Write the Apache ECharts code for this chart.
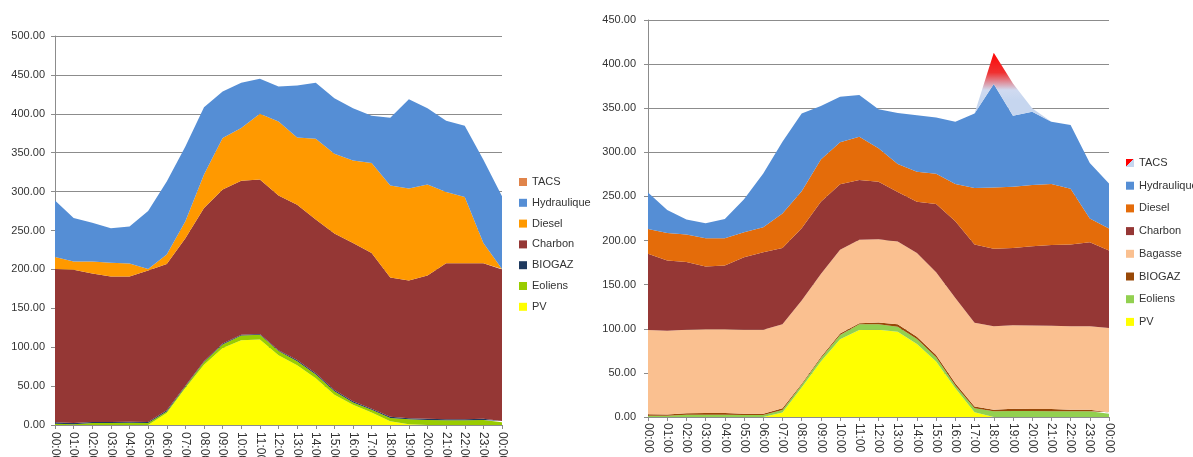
<!DOCTYPE html>
<html><head><meta charset="utf-8">
<script src="https://cdn.jsdelivr.net/npm/echarts@6/dist/echarts.min.js"></script>
<style>
html,body{margin:0;padding:0;background:#fff;width:1193px;height:457px;overflow:hidden}
#c1{position:absolute;left:0;top:0;width:595px;height:457px}
#c2{position:absolute;left:595px;top:0;width:598px;height:457px}
</style>
</head><body><div id="c1"></div><div id="c2"></div>
<script>
// ---------- DATA ----------
const hours = ["00:00","01:00","02:00","03:00","04:00","05:00","06:00","07:00","08:00","09:00","10:00","11:00","12:00","13:00","14:00","15:00","16:00","17:00","18:00","19:00","20:00","21:00","22:00","23:00","00:00"];

// Left chart (MW)
const L_PV       = [0,0,0,0,0,0,15.4,47.6,77.6,99,109,110,89.6,76.7,60,39,26,16,4.7,1,0,0,0,0,0];
const L_Eoliens  = [1.5,1,2.5,2.5,2.8,2.5,2.1,1.9,3.4,4.5,6,6,5.4,5.3,5,4.5,3,3.5,4.3,6.5,6.5,6.2,6.2,6.5,3.5];
const L_BIOGAZ   = [2,1.5,1.5,1.5,1.5,1.5,1.5,1.1,1,1.1,1,1,1,1.5,1.5,1.5,1.5,1.5,1.5,1.3,1.5,1.3,1.3,1.5,1.5];
const L_Charbon  = [197.1,197.1,190.6,187,186.7,194.5,188,189.4,197,198,198,198.4,199,199.5,197.5,201,203.5,200,179,176.8,184,200.5,200.5,200,195];
const L_Diesel   = [15.4,10.4,15.4,17.6,16.7,2.1,12,22,43,66.4,67.6,84.6,95,86.5,104,102.7,106,115.8,118.5,118.4,117,91.6,85,26,0.5];
const L_Hydrau   = [72.5,56,50,44.4,47.3,74.4,94,96,86.5,59.6,58.4,45,45,67,72,71.3,67,60.6,87,114.8,98,91.4,91.6,107,93.5];
const L_TACS     = [0,0,0,0,0,0,0,0,0,0,0,0,0,0,0,0,0,0,0,0,0,0,0,0,0];

// Right chart (MW)
const R_PV       = [0,0,0,0,0,0,0,5,33.5,62.8,88,98.5,99,96.6,82.7,62.8,32.7,5.3,0,0,0,0,0,0,0];
const R_Eoliens  = [1.5,1.5,2.5,2.6,2.6,2.2,2.2,3,3,3.7,5,6.5,6,5.7,5.6,4.9,3,4.5,6.4,6.8,6.8,6.4,6.4,6.4,3.8];
const R_BIOGAZ   = [1.5,1.3,1.8,1.9,1.9,1.6,1.6,2,1.1,1.5,1.7,1.4,2,2.7,2.7,2.6,2.6,2.2,1.9,2.6,2.2,2.6,1.9,1.9,1.5];
const R_Bagasse  = [95.5,94.9,94.7,95.1,95.1,95.1,95.1,95,94.4,94,94.8,94.4,94.5,94,95,93.7,96.7,94.8,94.7,94.6,94.8,94.4,94.7,94.7,95.7];
const R_Charbon  = [86.5,79.7,76.6,71.1,72.2,82.1,87.9,86.7,82,82,74.2,67.8,65.2,56,58,77.4,87,88.7,87.6,87.7,89.8,91.6,92.5,95,87.7];
const R_Diesel   = [28,31.2,31.2,31.9,30.8,28.4,28.2,39.1,42,48,47.6,49.1,37.8,31.7,34,34.2,42,64,69.4,69.3,69.4,69,63.1,27,25.1];
const R_Hydrau   = [41.6,26,17.2,16.9,21.8,37.3,61,81.2,88,60.5,51.7,47.3,44.2,57.8,64,64,70.7,84.5,117.4,80.5,83,70.7,72.4,63,51];
const R_TACS     = [0,0,0,0,0,0,0,0,0,0,0,0,0,0,0,0,0,0,35.6,36.5,4,0,0,0,0];

// ---------- STYLE ----------
const FONT = "'Liberation Sans', Arial, sans-serif";
const TXT = '#333333';
const GRID = '#8c8c8c';

function areaSeries(name, data, color, areaColor) {
  return {
    name, type: 'line', stack: 'total', data,
    symbol: 'none', showSymbol: false, smooth: false,
    lineStyle: { width: 0, opacity: 0 },
    itemStyle: { color },
    areaStyle: { color: areaColor || color, opacity: 1 },
    emphasis: { disabled: true }, animation: false
  };
}

function baseOption(grid, yMax, yMargin, xMargin, legendPos, legendGap, seriesList, legendNames) {
  return {
    animation: false,
    grid: Object.assign({ containLabel: false, outerBoundsMode: 'none' }, grid),
    xAxis: {
      type: 'category', data: hours, boundaryGap: false,
      axisLine: { show: true, lineStyle: { color: GRID, width: 1 } },
      axisTick: { show: true, alignWithLabel: true, interval: 0, length: 4, lineStyle: { color: GRID } },
      axisLabel: { interval: 0, rotate: -90, margin: xMargin, color: TXT, fontFamily: FONT, fontSize: 12 },
      splitLine: { show: false }
    },
    yAxis: {
      type: 'value', min: 0, max: yMax, interval: 50,
      axisLine: { show: true, lineStyle: { color: GRID, width: 1 } },
      axisTick: { show: true, length: 4, lineStyle: { color: GRID } },
      axisLabel: { color: TXT, fontFamily: FONT, fontSize: 11, margin: yMargin, formatter: v => v.toFixed(2) },
      splitLine: { show: true, lineStyle: { color: GRID, width: 1 } }
    },
    legend: Object.assign({
      orient: 'vertical', icon: 'rect', itemWidth: 8, itemHeight: 8, padding: 0,
      itemGap: legendGap, selectedMode: false, data: legendNames,
      textStyle: { color: TXT, fontFamily: FONT, fontSize: 11, lineHeight: 12 }
    }, legendPos),
    series: seriesList
  };
}

// Left chart
const leftSeries = [
  areaSeries('PV', L_PV, '#FFFF00'),
  areaSeries('Eoliens', L_Eoliens, '#99CC00'),
  areaSeries('BIOGAZ', L_BIOGAZ, '#1F3A5F'),
  areaSeries('Charbon', L_Charbon, '#953735'),
  areaSeries('Diesel', L_Diesel, '#FF9900'),
  areaSeries('Hydraulique', L_Hydrau, '#558ED5'),
  areaSeries('TACS', L_TACS, '#E0844A')
];
const c1 = echarts.init(document.getElementById('c1'), null, { renderer: 'canvas' });
c1.setOption(baseOption({ left: 55, right: 93, top: 36, bottom: 32 }, 500, 10, 7,
  { left: 519, top: 176 }, 8.8, leftSeries,
  ['TACS','Hydraulique','Diesel','Charbon','BIOGAZ','Eoliens','PV']));

// Right chart
const tacsArea = new echarts.graphic.LinearGradient(0, 50, 0, 100, [
  { offset: 0, color: '#FF0000' },
  { offset: 0.45, color: '#F03030' },
  { offset: 0.8, color: '#D0DAF0' },
  { offset: 1, color: '#C6D6EF' }
], true);
const tacsIcon = new echarts.graphic.LinearGradient(0, 0, 1, 1, [
  { offset: 0, color: '#FF0000' },
  { offset: 0.5, color: '#FF0000' },
  { offset: 0.5, color: '#C6D6EF' },
  { offset: 1, color: '#C6D6EF' }
]);
const rightSeries = [
  areaSeries('PV', R_PV, '#FFFF00'),
  areaSeries('Eoliens', R_Eoliens, '#92D050'),
  areaSeries('BIOGAZ', R_BIOGAZ, '#984807'),
  areaSeries('Bagasse', R_Bagasse, '#FAC090'),
  areaSeries('Charbon', R_Charbon, '#953735'),
  areaSeries('Diesel', R_Diesel, '#E46C0A'),
  areaSeries('Hydraulique', R_Hydrau, '#558ED5'),
  areaSeries('TACS', R_TACS, tacsIcon, tacsArea)
];
const c2 = echarts.init(document.getElementById('c2'), null, { renderer: 'canvas' });
c2.setOption(baseOption({ left: 53, right: 84, top: 20, bottom: 40 }, 450, 12, 6,
  { left: 531, top: 157 }, 10.7, rightSeries,
  ['TACS','Hydraulique','Diesel','Charbon','Bagasse','BIOGAZ','Eoliens','PV']));
</script>
</body></html>
